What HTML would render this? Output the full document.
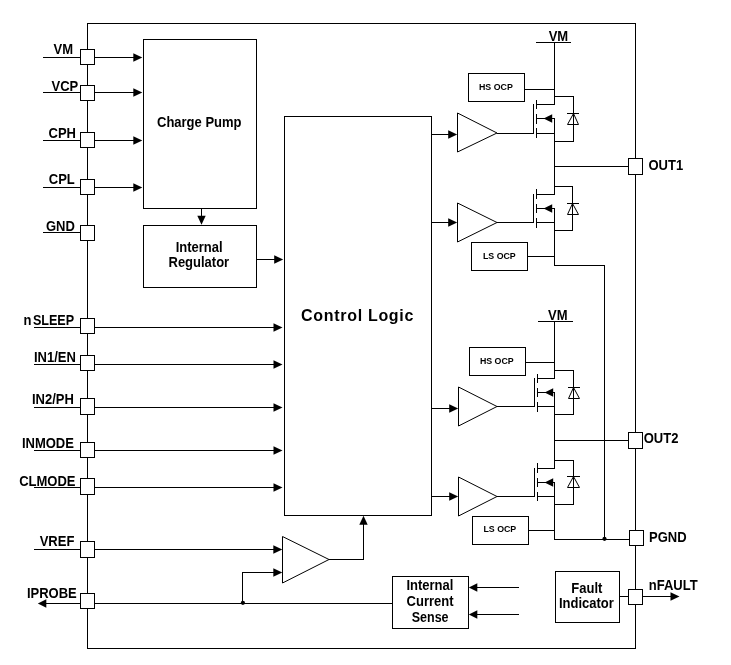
<!DOCTYPE html>
<html><head><meta charset="utf-8"><style>
html,body{margin:0;padding:0;background:#fff;width:731px;height:665px;overflow:hidden}
svg{display:block;will-change:transform}
text{font-family:"Liberation Sans",sans-serif;font-weight:bold;-webkit-font-smoothing:antialiased}
</style></head><body>
<svg width="731" height="665" viewBox="0 0 731 665">
<g fill="none" stroke="#000" stroke-width="1">
<path d="M87.5 23V649"/>
<path d="M87 23.5H636"/>
<path d="M87 648.5H636"/>
<path d="M635.5 23V649"/>
<path d="M43 57.5H81"/>
<path d="M95 57.5H135"/>
<polygon points="133.3,53.3 142.3,57.5 133.3,61.7" stroke="none" fill="#000"/>
<path d="M43 92.5H81"/>
<path d="M95 92.5H135"/>
<polygon points="133.3,88.3 142.3,92.5 133.3,96.7" stroke="none" fill="#000"/>
<path d="M43 140.5H81"/>
<path d="M95 140.5H135"/>
<polygon points="133.3,136.3 142.3,140.5 133.3,144.7" stroke="none" fill="#000"/>
<path d="M43 187.5H81"/>
<path d="M95 187.5H135"/>
<polygon points="133.3,183.3 142.3,187.5 133.3,191.7" stroke="none" fill="#000"/>
<path d="M43 232.5H81"/>
<path d="M34 327.5H81"/>
<path d="M95 327.5H275"/>
<polygon points="273.5,323.3 282.5,327.5 273.5,331.7" stroke="none" fill="#000"/>
<path d="M34 364.5H81"/>
<path d="M95 364.5H275"/>
<polygon points="273.5,360.3 282.5,364.5 273.5,368.7" stroke="none" fill="#000"/>
<path d="M34 407.5H81"/>
<path d="M95 407.5H275"/>
<polygon points="273.5,403.3 282.5,407.5 273.5,411.7" stroke="none" fill="#000"/>
<path d="M34 450.5H81"/>
<path d="M95 450.5H275"/>
<polygon points="273.5,446.3 282.5,450.5 273.5,454.7" stroke="none" fill="#000"/>
<path d="M34 487.5H81"/>
<path d="M95 487.5H275"/>
<polygon points="273.5,483.3 282.5,487.5 273.5,491.7" stroke="none" fill="#000"/>
<path d="M34 549.5H81"/>
<path d="M95 549.5H275"/>
<polygon points="273.3,545.3 282.3,549.5 273.3,553.7" stroke="none" fill="#000"/>
<path d="M46 603.5H81"/>
<path d="M95 603.5H393"/>
<polygon points="46.3,599.3 37.8,603.5 46.3,607.7" stroke="none" fill="#000"/>
<path d="M201.5 209V218"/>
<polygon points="197.3,215.8 201.5,224.8 205.7,215.8" stroke="none" fill="#000"/>
<path d="M257 259.5H276"/>
<polygon points="274.2,255.3 283.2,259.5 274.2,263.7" stroke="none" fill="#000"/>
<path d="M329 559.5H364"/>
<path d="M363.5 524V560"/>
<polygon points="359.3,524.8 363.5,515.8 367.7,524.8" stroke="none" fill="#000"/>
<path d="M242.5 572V604"/>
<path d="M242 572.5H275"/>
<polygon points="273.3,568.3 282.3,572.5 273.3,576.7" stroke="none" fill="#000"/>
<path d="M477 587.5H519"/>
<polygon points="477.3,583.3 468.8,587.5 477.3,591.7" stroke="none" fill="#000"/>
<path d="M477 614.5H519"/>
<polygon points="477.3,610.3 468.8,614.5 477.3,618.7" stroke="none" fill="#000"/>
<path d="M620 596.5H629"/>
<path d="M643 596.5H672"/>
<polygon points="670.5,592.3 679.5,596.5 670.5,600.7" stroke="none" fill="#000"/>
<path d="M432 134.5H450"/>
<polygon points="448.2,130.3 457.2,134.5 448.2,138.7" stroke="none" fill="#000"/>
<path d="M497 133.5H534"/>
<path d="M432 222.5H450"/>
<polygon points="448.2,218.3 457.2,222.5 448.2,226.7" stroke="none" fill="#000"/>
<path d="M497 222.5H534"/>
<path d="M432 408.5H451"/>
<polygon points="449.2,404.3 458.2,408.5 449.2,412.7" stroke="none" fill="#000"/>
<path d="M497 406.5H535"/>
<path d="M432 496.5H451"/>
<polygon points="449.2,492.3 458.2,496.5 449.2,500.7" stroke="none" fill="#000"/>
<path d="M497 496.5H535"/>
<path d="M536 42.5H571"/>
<path d="M538 321.5H573"/>
<path d="M554.5 42V105"/>
<path d="M554.5 118V195"/>
<path d="M554.5 208V266"/>
<path d="M554 265.5H605"/>
<path d="M604.5 265V540"/>
<path d="M554 166.5H629"/>
<path d="M554.5 321V379"/>
<path d="M554.5 392V469"/>
<path d="M554.5 482V540"/>
<path d="M554 539.5H630"/>
<path d="M554 440.5H629"/>
<path d="M525 89.5H555"/>
<path d="M528 256.5H555"/>
<path d="M526 362.5H555"/>
<path d="M529 530.5H555"/>
<path d="M533.5 104V134"/>
<path d="M536.5 100V109"/>
<path d="M536.5 114V124"/>
<path d="M536.5 128V138"/>
<path d="M536 104.5H555"/>
<path d="M536 118.5H555"/>
<path d="M536 133.5H555"/>
<polygon points="552.2,114.2 543.6,118.5 552.2,122.8" stroke="none" fill="#000"/>
<path d="M554 96.5H574"/>
<path d="M573.5 96V142"/>
<path d="M554 141.5H574"/>
<path d="M567 113.5H579"/>
<polygon points="573.5,113.5 567.5,124.5 578.5,124.5" fill="none"/>
<path d="M533.5 194V223"/>
<path d="M536.5 189V199"/>
<path d="M536.5 204V213"/>
<path d="M536.5 218V228"/>
<path d="M536 194.5H555"/>
<path d="M536 208.5H555"/>
<path d="M536 222.5H555"/>
<polygon points="552.2,204.2 543.6,208.5 552.2,212.8" stroke="none" fill="#000"/>
<path d="M554 186.5H573"/>
<path d="M572.5 186V231"/>
<path d="M554 230.5H573"/>
<path d="M567 203.5H579"/>
<polygon points="572.5,203.5 567.5,214.5 578.5,214.5" fill="none"/>
<path d="M534.5 378V407"/>
<path d="M537.5 374V383"/>
<path d="M537.5 388V397"/>
<path d="M537.5 402V412"/>
<path d="M537 378.5H555"/>
<path d="M537 392.5H555"/>
<path d="M537 406.5H555"/>
<polygon points="553.2,388.2 544.6,392.5 553.2,396.8" stroke="none" fill="#000"/>
<path d="M554 370.5H574"/>
<path d="M573.5 370V415"/>
<path d="M554 414.5H574"/>
<path d="M568 387.5H580"/>
<polygon points="573.5,387.5 568.5,398.5 579.5,398.5" fill="none"/>
<path d="M534.5 468V497"/>
<path d="M537.5 463V473"/>
<path d="M537.5 478V487"/>
<path d="M537.5 492V501"/>
<path d="M537 468.5H555"/>
<path d="M537 482.5H555"/>
<path d="M537 496.5H555"/>
<polygon points="553.2,478.2 544.6,482.5 553.2,486.8" stroke="none" fill="#000"/>
<path d="M554 460.5H574"/>
<path d="M573.5 460V505"/>
<path d="M554 504.5H574"/>
<path d="M567 476.5H580"/>
<polygon points="573.5,476.5 567.5,487.5 579.5,487.5" fill="none"/>
<rect x="80.5" y="49.5" width="14" height="15" fill="#fff"/>
<rect x="80.5" y="85.5" width="14" height="15" fill="#fff"/>
<rect x="80.5" y="132.5" width="14" height="15" fill="#fff"/>
<rect x="80.5" y="179.5" width="14" height="15" fill="#fff"/>
<rect x="80.5" y="225.5" width="14" height="15" fill="#fff"/>
<rect x="80.5" y="318.5" width="14" height="15" fill="#fff"/>
<rect x="80.5" y="355.5" width="14" height="15" fill="#fff"/>
<rect x="80.5" y="398.5" width="14" height="16" fill="#fff"/>
<rect x="80.5" y="442.5" width="14" height="15" fill="#fff"/>
<rect x="80.5" y="478.5" width="14" height="16" fill="#fff"/>
<rect x="80.5" y="541.5" width="14" height="16" fill="#fff"/>
<rect x="80.5" y="593.5" width="14" height="15" fill="#fff"/>
<rect x="628.5" y="158.5" width="14" height="16" fill="#fff"/>
<rect x="628.5" y="432.5" width="14" height="16" fill="#fff"/>
<rect x="629.5" y="530.5" width="14" height="15" fill="#fff"/>
<rect x="628.5" y="589.5" width="14" height="15" fill="#fff"/>
<rect x="143.5" y="39.5" width="113" height="169" fill="#fff"/>
<rect x="143.5" y="225.5" width="113" height="62" fill="#fff"/>
<rect x="284.5" y="116.5" width="147" height="399" fill="#fff"/>
<rect x="392.5" y="576.5" width="76" height="52" fill="#fff"/>
<rect x="555.5" y="571.5" width="64" height="51" fill="#fff"/>
<rect x="468.5" y="73.5" width="56" height="28" fill="#fff"/>
<rect x="471.5" y="242.5" width="56" height="28" fill="#fff"/>
<rect x="469.5" y="347.5" width="56" height="28" fill="#fff"/>
<rect x="472.5" y="516.5" width="56" height="28" fill="#fff"/>
<polygon points="457.5,113 457.5,152 497,133" fill="#fff"/>
<polygon points="457.5,203 457.5,242 497,222.5" fill="#fff"/>
<polygon points="458.5,387 458.5,426 497,406.5" fill="#fff"/>
<polygon points="458.5,477 458.5,516 497,496.5" fill="#fff"/>
<polygon points="282.5,536.5 282.5,583 329,559.5" fill="#fff"/>
<circle cx="242.9" cy="602.8" r="2.1" stroke="none" fill="#000"/>
<circle cx="604.5" cy="538.8" r="2.1" stroke="none" fill="#000"/>
</g>
<g font-family="Liberation Sans" font-weight="bold" fill="#000">
<text transform="translate(53.5 54.15) scale(0.93 1)" font-size="14">VM</text>
<text transform="translate(51.5 91.3) scale(0.93 1)" font-size="14">VCP</text>
<text transform="translate(48.5 138.2) scale(0.93 1)" font-size="14">CPH</text>
<text transform="translate(48.8 184.2) scale(0.93 1)" font-size="14">CPL</text>
<text transform="translate(45.9 231.25) scale(0.93 1)" font-size="14">GND</text>
<text transform="translate(23.5 325.25) scale(0.93 1)" font-size="14">n</text>
<text transform="translate(32.9 325.25) scale(0.9 1)" font-size="14">SLEEP</text>
<text transform="translate(33.9 362.4) scale(0.93 1)" font-size="14">IN1/EN</text>
<text transform="translate(31.9 404.25) scale(0.93 1)" font-size="14">IN2/PH</text>
<text transform="translate(21.9 448.2) scale(0.93 1)" font-size="14">INMODE</text>
<text transform="translate(19.2 486.0) scale(0.93 1)" font-size="14">CLMODE</text>
<text transform="translate(39.7 546.15) scale(0.93 1)" font-size="14">VREF</text>
<text transform="translate(26.9 598.05) scale(0.93 1)" font-size="14">IPROBE</text>
<text transform="translate(648.5 170.15) scale(0.93 1)" font-size="14">OUT1</text>
<text transform="translate(643.7 443.4) scale(0.93 1)" font-size="14">OUT2</text>
<text transform="translate(649.0 542.3) scale(0.93 1)" font-size="14">PGND</text>
<text transform="translate(648.8 589.95) scale(0.93 1)" font-size="14">nFAULT</text>
<text transform="translate(548.7 41.3) scale(0.93 1)" font-size="14">VM</text>
<text transform="translate(548.1 320.2) scale(0.93 1)" font-size="14">VM</text>
<text transform="translate(157.0 127.0) scale(0.93 1)" font-size="14">Charge Pump</text>
<text transform="translate(175.7 252.3) scale(0.93 1)" font-size="14">Internal</text>
<text transform="translate(168.5 267.15) scale(0.93 1)" font-size="14">Regulator</text>
<text transform="translate(406.4 590.15) scale(0.93 1)" font-size="14">Internal</text>
<text transform="translate(406.6 605.9) scale(0.93 1)" font-size="14">Current</text>
<text transform="translate(411.7 621.95) scale(0.895 1)" font-size="14">Sense</text>
<text transform="translate(571.3 593.0) scale(0.93 1)" font-size="14">Fault</text>
<text transform="translate(558.9 608.1) scale(0.93 1)" font-size="14">Indicator</text>
<text transform="translate(301.0 320.83) scale(1.0 1)" font-size="16" letter-spacing="0.7">Control Logic</text>
<text transform="translate(479.0 89.85) scale(0.92 1)" font-size="9.6">HS OCP</text>
<text transform="translate(479.9 363.95) scale(0.92 1)" font-size="9.6">HS OCP</text>
<text transform="translate(482.9 258.95) scale(0.92 1)" font-size="9.6">LS OCP</text>
<text transform="translate(483.4 532.1) scale(0.92 1)" font-size="9.6">LS OCP</text>
</g>
</svg>
</body></html>
